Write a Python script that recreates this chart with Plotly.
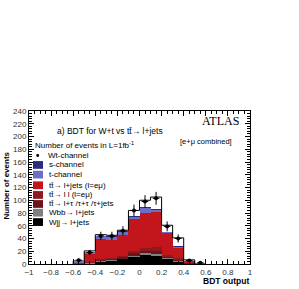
import plotly.graph_objects as go

# ---- data (bins of BDT output, width 0.1) ----
bin_centers = [-0.55, -0.45, -0.35, -0.25, -0.15, -0.05, 0.05, 0.15, 0.25, 0.35, 0.45, 0.55]
bin_width = 0.1
wjj      = [0.5, 1.5, 4.0, 5.0, 8.0, 11.0, 15.0, 14.0, 9.0, 4.5, 1.0, 0.0]
wbb      = [0.2, 0.5, 1.0, 1.5, 1.0, 2.0, 2.0, 2.0, 1.0, 1.0, 0.3, 0.0]
tt_ltau  = [0.1, 0.5, 1.5, 2.0, 2.0, 4.0, 4.0, 5.0, 2.0, 1.5, 0.4, 0.0]
tt_ll    = [0.2, 0.5, 1.5, 1.5, 2.0, 4.0, 4.0, 5.0, 2.0, 2.0, 0.3, 0.0]
tt_lj    = [2.0, 12.0, 31.0, 27.0, 32.0, 50.0, 55.0, 55.0, 36.0, 17.5, 4.0, 0.0]
t_chan   = [0.5, 4.0, 5.0, 6.0, 6.0, 4.0, 8.0, 4.0, 0.5, 1.0, 0.0, 0.0]
s_chan   = [0.2, 0.6, 1.0, 1.0, 1.0, 1.0, 1.0, 1.0, 0.3, 0.5, 0.0, 0.0]
wt_chan  = [1.0, 1.0, 1.0, 1.0, 1.0, 8.0, 11.0, 19.0, 10.0, 13.0, 0.5, 0.2]
data_y   = [6, 18, 44, 44, 52, 84, 98, 103, 59, 40, 5.5, 2]
data_err = [2.4, 4.2, 6.6, 6.6, 7.2, 9.2, 9.9, 10.1, 7.7, 6.3, 2.3, 1.4]

components = [
    ("Wjj", wjj, "#000000"),
    ("Wbb", wbb, "#808080"),
    ("tt_ltau", tt_ltau, "#6b1518"),
    ("tt_ll", tt_ll, "#8c1a20"),
    ("tt_lj", tt_lj, "#c3161c"),
    ("t", t_chan, "#6d6dc6"),
    ("s", s_chan, "#2b2b80"),
    ("Wt", wt_chan, "#ffffff"),
]

legend_items = [
    ("Wt-channel", None),
    ("s-channel", "#2b2b80"),
    ("t-channel", "#6d6dc6"),
    ("tt̄→ l+jets (l=eμ)", "#c3161c"),
    ("tt̄→ l l (l=eμ)", "#8c1a20"),
    ("tt̄→ l+τ /τ+τ /τ+jets", "#6b1518"),
    ("Wbb→ l+jets", "#808080"),
    ("Wjj→ l+jets", "#000000"),
]

fig = go.Figure()
for name, vals, col in components:
    fig.add_trace(go.Bar(x=bin_centers, y=vals, width=bin_width, name=name,
                         marker=dict(color=col, line=dict(width=0)), showlegend=False))

# total outline as step histogram
total = [sum(c[1][i] for c in components) for i in range(len(bin_centers))]
edges = [c - bin_width / 2 for c in bin_centers] + [bin_centers[-1] + bin_width / 2]
sx = [edges[0]]
sy = [0]
for i in range(len(bin_centers)):
    sx += [edges[i], edges[i + 1]]
    sy += [total[i], total[i]]
sx += [edges[-1]]
sy += [0]
fig.add_trace(go.Scatter(x=sx, y=sy, mode="lines", line=dict(color="black", width=1),
                         showlegend=False, hoverinfo="skip"))

fig.add_trace(go.Scatter(x=bin_centers, y=data_y, mode="markers",
                         marker=dict(color="black", size=4),
                         error_y=dict(type="data", array=data_err, color="black", thickness=1, width=0),
                         error_x=dict(type="constant", value=0.03, color="black", thickness=1, width=0),
                         showlegend=False))

# pixel -> paper helpers
L, R, T, B = 29, 250, 111, 269
def px(x):
    return (x - L) / (R - L)
def py(y):
    return (B - y) / (B - T)

FONT = "Liberation Sans, Arial, sans-serif"
ann = []
shapes = []
def text(x, y, s, size, xanchor="left", family=FONT, angle=0, yanchor="middle"):
    ann.append(dict(x=px(x), y=py(y), text=s, showarrow=False, xref="paper", yref="paper",
                    xanchor=xanchor, yanchor=yanchor, textangle=angle,
                    font=dict(family=family, size=size, color="black")))

text(220, 121, "ATLAS", 12, xanchor="center", family="Liberation Serif, Times New Roman, serif")
text(55, 132, "a) BDT for W+t vs tt̄→ l+jets", 8.5)
text(33, 146, "Number of events in L=1fb<sup>-1</sup>", 8)
text(206, 143, "[e+μ combined]", 7.5, xanchor="center")
text(251, 279, "<b>BDT output</b>", 8.5, xanchor="right", yanchor="top")
text(7, 188, "<b>Number of events</b>", 8, xanchor="center", angle=-90)

row_y = [157, 166.7, 176.7, 187.7, 197.7, 207, 216, 225.7]
for (label, col), yy in zip(legend_items, row_y):
    if col is None:
        text(46, yy, label, 8)
        shapes.append(dict(type="circle", xref="paper", yref="paper",
                           x0=px(36.2), x1=px(39.2), y0=py(yy + 1.5), y1=py(yy - 1.5),
                           fillcolor="black", line=dict(width=0)))
    else:
        text(47, yy, label, 8)
        shapes.append(dict(type="rect", xref="paper", yref="paper",
                           x0=px(33), x1=px(43), y0=py(yy + 4), y1=py(yy - 4),
                           fillcolor=col, line=dict(width=0)))

axis_common = dict(showline=True, linecolor="black", linewidth=1, mirror="ticks",
                   ticks="inside", ticklen=5, tickcolor="black", showgrid=False, zeroline=False,
                   tickfont=dict(family=FONT, size=8, color="#333333"))
fig.update_layout(
    width=299, height=289,
    margin=dict(l=L, r=299 - R, t=T, b=289 - B),
    paper_bgcolor="white", plot_bgcolor="white",
    barmode="stack", bargap=0,
    annotations=ann, shapes=shapes,
    xaxis=dict(range=[-1, 1], dtick=0.2, tick0=-1,
               minor=dict(ticks="inside", ticklen=3, dtick=0.05, tickcolor="black"),
               ticklabelstandoff=0,
               **axis_common),
    yaxis=dict(range=[0, 240], dtick=20, tick0=0,
               minor=dict(ticks="inside", ticklen=3, dtick=4, tickcolor="black"),
               **axis_common),
)
fig.write_html("out.html", config={"displayModeBar": False},
               post_script="document.body.style.margin='0';document.body.style.overflow='hidden';")
